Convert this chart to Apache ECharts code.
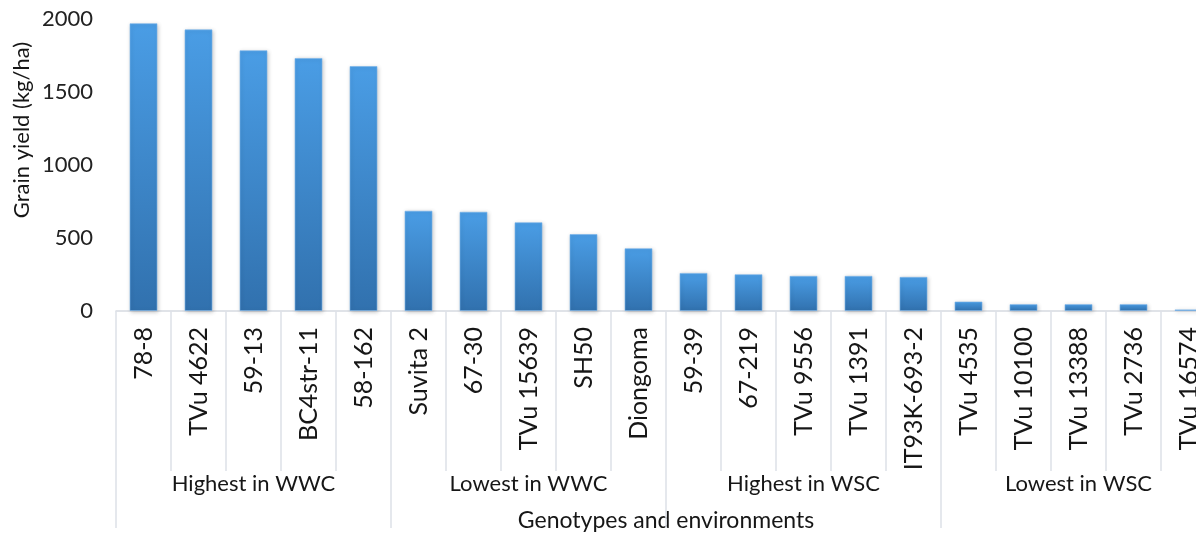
<!DOCTYPE html>
<html>
<head>
<meta charset="utf-8">
<script src="https://cdn.jsdelivr.net/npm/echarts@6/dist/echarts.min.js"></script>
<style>
  html, body { margin: 0; padding: 0; background: #ffffff; overflow: hidden; width: 1196px; height: 537px; }
  /* the plot runs past the right edge of the page, so the canvas is wider than the view */
  #chart { width: 1240px; height: 537px; }
</style>
</head>
<body>
<div id="chart"></div>
<script>
// Genotypes, in plotting order
const genotypes = [
  '78-8', 'TVu 4622', '59-13', 'BC4str-11', '58-162',
  'Suvita 2', '67-30', 'TVu 15639', 'SH50', 'Diongoma',
  '59-39', '67-219', 'TVu 9556', 'TVu 1391', 'IT93K-693-2',
  'TVu 4535', 'TVu 10100', 'TVu 13388', 'TVu 2736', 'TVu 16574'
];
// Grain yield (kg/ha) per genotype
const grainYield = [
  1971, 1929, 1786, 1733, 1678,
  687, 680, 608, 527, 430,
  261, 252, 241, 241, 234,
  65, 47, 47, 47, 11
];
// Environment groups, five genotypes each
const groups = ['Highest in WWC', 'Lowest in WWC', 'Highest in WSC', 'Lowest in WSC'];
// Value axis ticks
const yTicks = [0, 500, 1000, 1500, 2000];

const FONT = 'Lato, "Open Sans", sans-serif';
const sepColor = '#dde1e8';
const textColor = '#161616';

const chart = echarts.init(document.getElementById('chart'), null, { renderer: 'canvas' });

chart.setOption({
  animation: false,
  backgroundColor: '#ffffff',
  grid: { left: 116, top: 19, width: 1100, height: 296.5, containLabel: false },
  xAxis: [
    {
      type: 'category',
      position: 'bottom',
      offset: 0,
      data: genotypes,
      boundaryGap: true,
      axisLine: { show: true, lineStyle: { color: '#d6dae1', width: 1.5 } },
      axisTick: { show: true, interval: 0, length: 160, alignWithLabel: false,
                  lineStyle: { color: sepColor, width: 1.5 } },
      axisLabel: { interval: 0, rotate: 90, margin: 16, fontSize: 25,
                   fontFamily: FONT, color: textColor },
      splitLine: { show: false }
    },
    {
      type: 'category',
      position: 'bottom',
      offset: 0,
      data: groups,
      boundaryGap: true,
      axisLine: { show: false },
      axisTick: { show: true, interval: 0, length: 217, alignWithLabel: false,
                  lineStyle: { color: sepColor, width: 1.5 } },
      axisLabel: { interval: 0, margin: 162, fontSize: 22,
                   fontFamily: FONT, color: textColor },
      splitLine: { show: false },
      name: 'Genotypes and environments',
      nameLocation: 'middle',
      nameGap: 198,
      nameTextStyle: { fontSize: 23, fontFamily: FONT, color: textColor }
    }
  ],
  yAxis: {
    type: 'value',
    min: yTicks[0],
    max: yTicks[yTicks.length - 1],
    interval: yTicks[1] - yTicks[0],
    axisLine: { show: false },
    axisTick: { show: false },
    splitLine: { show: false },
    axisLabel: { margin: 23, fontSize: 22, fontFamily: FONT, color: '#222222',
                 formatter: (v) => String(v) }
  },
  graphic: [
    {
      type: 'text',
      x: 22,
      y: 130,
      rotation: Math.PI / 2,
      style: {
        text: 'Grain yield (kg/ha)',
        textAlign: 'center',
        textVerticalAlign: 'middle',
        fontSize: 22,
        fontFamily: FONT,
        fill: textColor
      }
    }
  ],
  series: [
    {
      type: 'bar',
      xAxisIndex: 0,
      yAxisIndex: 0,
      data: grainYield,
      barWidth: 28,
      itemStyle: {
        color: new echarts.graphic.LinearGradient(0, 0, 0, 1, [
          { offset: 0, color: '#4a9de5' },
          { offset: 1, color: '#3171ae' }
        ]),
        borderColor: 'rgba(120,180,235,0.6)',
        borderWidth: 1,
        shadowBlur: 4,
        shadowColor: 'rgba(0,0,0,0.22)',
        shadowOffsetX: 1,
        shadowOffsetY: 1
      }
    }
  ]
});
</script>
</body>
</html>
